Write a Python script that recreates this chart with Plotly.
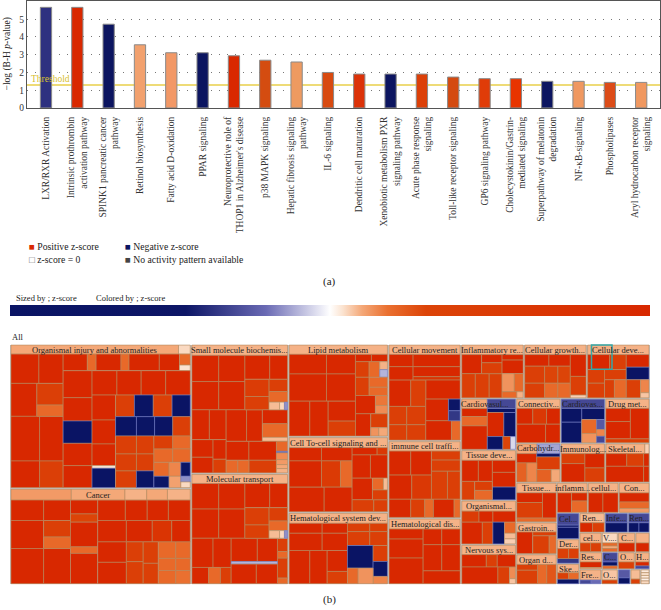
import plotly.graph_objects as go
from plotly.colors import sample_colorscale

W, H = 661, 610
SERIF = "Liberation Serif"

# ---------- bar chart data ----------
pathways = ["LXR/RXR Activation", "Intrinsic prothrombin<br>activation pathway",
            "SPINK1 pancreatic cancer<br>pathway", "Retinol biosynthesis",
            "Fatty acid D-oxidation", "PPAR signaling",
            "Neuroprotective role of<br>THOP1 in Alzheimer's disease", "p38 MAPK signaling",
            "Hepatic fibrosis signaling<br>pathway", "IL-6 signaling",
            "Dendritic cell maturation", "Xenobiotic metabolism PXR<br>signaling pathway",
            "Acute phase response<br>signaling", "Toll-like receptor signaling",
            "GP6 signaling pathway", "Cholecystokinin/Gastrin-<br>mediated signaling",
            "Superpathway of melatonin<br>degradation", "NF-κB-signaling",
            "Phospholipases", "Aryl hydrocarbon receptor<br>signaling"]
log_p = [5.67, 5.67, 4.72, 3.56, 3.11, 3.11, 2.94, 2.69, 2.59, 2.0,
         1.91, 1.91, 1.91, 1.74, 1.65, 1.65, 1.5, 1.5, 1.44, 1.44]
bar_colors = ["#2e3180", "#d92800", "#0c1560", "#f2a16e", "#f29866", "#0c1560", "#d92800",
              "#d44c10", "#ee9a60", "#d84a10", "#dc3208", "#0c1560", "#dc4008", "#d44a10",
              "#e03c08", "#e83400", "#0c1560", "#f09860", "#dc4c18", "#f09860"]
threshold = 1.3
y_ticks = [0, 1, 2, 3, 4, 5]

# ---------- z-score colour scale ----------
z_scale = [[0.0, "#0a1464"], [0.275, "#0d1666"], [0.40, "#6a6ab4"], [0.485, "#e8e8f4"],
           [0.5, "#ffffff"], [0.52, "#fbe3d0"], [0.55, "#f4a878"], [0.59, "#ea7030"],
           [0.65, "#dc4408"], [1.0, "#d82800"]]

# ---------- treemap data: sibling sizes and z-scores ----------
# leaf: [size, z-score, optional label]; branch: [split direction, size, children...]
R, r, o, p, N, L = 1.0, 0.42, 0.2, 0.1, -1.0, -0.3
S = [4, None]

organismal = ["y", 433,
    ["x", 27, [500, p, "Organismal injury and abnormalities"], [35, .05]],
    ["x", 401,
        ["y", 155,
            ["x", 88, [83, R], [72, R]],
            ["x", 99, [77, R], ["y", 78, [65, r], [34, o]]],
            ["x", 134, [85, R], [70, R]],
            ["x", 80, [85, R], [70, r]]],
        ["y", 378,
            ["x", 50, [72, R], [26, o], [74, R], [24, o], [90, R], [60, R], ["y", 32, [33, o], [17, .04]]],
            ["x", 351,
                ["y", 86, [81, R], [70, R], [67, N], [67, R], [66, R]],
                ["y", 292,
                    ["x", 73, [74, R], [72, R], [73, R], [73, R]],
                    ["x", 278,
                        ["y", 70, [75, R], [72, R], [65, R], [8, .03], [58, N]],
                        ["y", 222,
                            ["x", 65, [56, r], [56, N], [56, r], [54, N]],
                            ["x", 58, [62, N], [54, -.8], [54, -.9], [52, r]],
                            ["x", 155,
                                ["y", 62, [54, r], [51, r], [50, r]],
                                ["y", 52, [54, r], [51, r], [50, N]],
                                ["y", 108,
                                    ["x", 39, [56, r], [52, o]],
                                    ["x", 40, [56, o], [52, o]],
                                    ["x", 76,
                                        ["y", 45, [42, o], [34, -.55]],
                                        ["y", 35, [42, .15], [34, .11]],
                                        ["y", 28, [42, -.55], [17, -.15], [17, .05]]
                                    ]
                                ]
                            ]
                        ]
                    ]
                ]
            ]
        ]
    ]
]

cancer = ["y", 287,
    ["x", 33, [180, .12], [160, .1, "Cancer"], [65, .09], [62, .1], [68, .09]],
    ["x", 254,
        ["y", 177,
            ["x", 62, [97, R], [80, R]],
            ["x", 85, [97, R], ["y", 80, [50, r], [35, o]]],
            ["x", 107, [97, R], [80, R]]],
        ["x", 356,
            ["y", 81, [42, R], [25, .3], [75, R], [20, o], [92, R]],
            ["y", 275,
                ["x", 62, [82, R], [65, R], [63, R], [65, R]],
                ["x", 65, [85, R], [77, R], [58, .7], [55, R]],
                ["x", 127,
                    ["y", 85, [62, R], [65, R]],
                    ["y", 50, [60, r], [67, r]],
                    ["y", 45, [65, r], [62, r]],
                    ["y", 95,
                        ["x", 50, [52, o], [43, o]],
                        ["x", 37, [52, o], [43, o]],
                        ["x", 40, [52, o], [43, .18]]
                    ]
                ]
            ]
        ]
    ]
]

small_molecule = ["y", 385,
    [31, .09, "Small molecule biochemis..."],
    ["x", 164,
        ["y", 158, ["x", 79, [80, R], [78, R]], ["x", 85, [80, R], [78, R]]],
        ["y", 127,
            ["x", 72, [74, R], [53, R]],
            ["x", 92,
                ["y", 72, [52, .5], [40, r]],
                ["y", 55, [37, r], [32, o], ["x", 23, [24, .08], [11, .05], [7, -.15]]]]]],
    ["x", 190,
        ["y", 102, ["x", 90, [52, R], [50, R]], ["x", 100, ["y", 63, [53, R], [47, R]], ["y", 39, [23, R], [16, r]]]],
        ["y", 183,
            ["x", 95, [61, R], [47, R], ["y", 75, [42, R], [41, o], [12, .08]]],
            ["x", 95,
                ["y", 68, [57, R], ["x", 38, [35, o], [33, o]]],
                ["y", 82, [57, R], [38, r]],
                ["y", 33, [30, o], [5, -.2], [20, .14], [15, .12], [12, .1], [13, .09]]]]]]

molecular = ["y", 329,
    [27, .09, "Molecular transport"],
    ["x", 165,
        ["y", 158, ["x", 77, [80, R], [78, R]], ["x", 88, [80, R], [78, R]]],
        ["y", 127,
            ["x", 73, [74, R], [53, R]],
            ["x", 92,
                ["y", 72, [52, r], [40, r]],
                ["y", 55, [40, r], [29, o], ["x", 23, [24, .08], [11, .05], [7, -.15]]]]]],
    ["x", 137,
        ["y", 117, ["x", 88, [63, R], [54, R]], ["x", 49, [50, R], [35, o], [32, r]]],
        ["y", 138, ["x", 70, [78, R], [60, R]], ["x", 8, [138, -.1]], ["x", 59, [75, R], [63, R]]],
        ["y", 30, [40, r], [20, o], [60, r], [17, o]]]]

lipid = ["y", 274,
    [28, .09, "Lipid metabolism"],
    ["x", 246,
        ["y", 199,
            ["x", 59, [112, R], [87, R]],
            ["x", 82, [112, R], [87, R]],
            ["x", 105, [62, R], [55, R], ["y", 82, [60, R], [45, r]]]],
        ["y", 96,
            ["x", 22, [48, R], [48, R]],
            ["x", 47, [41, r], [32, o], ["y", 23, [24, .09], [23, -.1]]],
            ["x", 55, [41, r], ["y", 55, [30, o], [25, .2]]],
            ["x", 55, [60, R], ["y", 36, [30, .17], [25, .14]]],
            ["x", 67, [46, R], ["y", 50, [42, r], ["x", 25, [24, .13], [26, .1]]]]]]]

cell_to_cell = ["y", 223,
    [30, .09, "Cell To-cell signaling and ..."],
    ["x", 193,
        ["y", 189,
            ["x", 40, [97, R], [92, R]],
            ["x", 79, [97, R], [57, .55], [35, o]],
            ["x", 74, [105, R], [84, R]]],
        ["y", 106,
            ["x", 22, [75, R], [31, .6]],
            ["x", 70, [55, R], [51, R]],
            ["x", 65, [61, R], ["y", 45, ["x", 35, [33, .2], [12, .08]], [30, r]]],
            ["x", 36, [65, r], [41, r]]]]]

hemat_system = ["y", 212,
    [30, .09, "Hematological system dev..."],
    ["x", 182,
        ["y", 175,
            ["x", 30, [99, R], [76, R]],
            ["x", 52, [99, R], [76, R]],
            ["x", 100, [62, R], [52, R], ["y", 61, [63, R], [37, r]]]],
        ["y", 120,
            ["x", 25, [67, r], [53, r]],
            ["x", 42, [67, r], [53, r]],
            ["x", 115,
                ["y", 77, [68, N], ["x", 47, [32, o], [45, .13]]],
                ["y", 43, [48, r], [45, N], [22, .15]]]]]]

cell_movement = ["y", 285,
    [28, .09, "Cellular movement"],
    ["x", 77,
        ["y", 26, [102, R], [111, R]],
        ["y", 51, [102, R], [83, R], [28, .7]]],
    ["x", 180,
        ["y", 110,
            ["x", 79, [65, R], [45, r]],
            ["x", 55, [53, r], [57, r]],
            ["x", 46, [53, r], [57, r]]],
        ["y", 103,
            [57, R],
            ["x", 65, [68, R], ["y", 35, [35, -.55], [30, -.35]]],
            ["x", 58, [77, R], [26, o]]]]]

immune = ["y", 227,
    [28, .09, "immune cell traffi..."],
    ["x", 144,
        ["y", 127,
            ["x", 72, [65, R], [62, R]],
            ["x", 72, [68, R], [59, .6]]],
        ["y", 86,
            ["x", 60, ["y", 86, [27, r], [33, r]]],
            ["x", 84, [48, r], [38, r]]]],
    ["x", 55, [65, R], [42, r], [26, o], [62, R], [18, o]]]

hemat_disease = ["y", 194,
    [30, .09, "Hematological dis..."],
    ["x", 164,
        ["y", 102, [30, R], [57, R], [77, R]],
        ["y", 111,
            ["x", 47, [56, R], [55, R]],
            ["x", 78, [56, R], [55, R]],
            [39, R]]]]

inflammatory = ["y", 158,
    [28, .09, "Inflammatory re..."],
    ["x", 56, [63, R], ["y", 65, [24, R], [32, r]], ["y", 67, [16, R], [40, R]]],
    ["x", 71,
        [43, r], [44, r], [41, r],
        ["y", 67, ["x", 53, [39, .13], [28, o]], ["x", 18, [47, o], [20, .09]]]]]

growth = ["y", 158,
    [28, .09, "Cellular growth..."],
    ["x", 127,
        ["y", 137,
            ["x", 34, [73, R], [64, R]],
            ["x", 50, [60, r], [40, .3], [37, .3]],
            ["x", 43, [60, r], [40, o], [37, o]]],
        ["y", 48, [64, R], [55, r], [8, .06]]]]

cell_dev = ["y", 158,
    [28, .09, "Cellular deve..."],
    ["x", 127,
        ["y", 109,
            ["x", 44, [62, R], [47, r]],
            ["x", 83,
                ["y", 48, [40, r], [43, r]],
                ["y", 61, [30, r], ["x", 53, [27, r], [32, o]]]]],
        ["y", 65, [37, R], [37, N], ["x", 53, [41, r], ["y", 24, [38, .15], [15, .07]]]]]]

cardio_1 = ["y", 150,
    ["x", 28, [77, .1], [85, L]],
    ["x", 122,
        ["y", 77, [24, R], [28, o], [70, R]],
        ["y", 85, [12, N], ["x", 72, [50, R], [35, N]], ["x", 38, [47, N], [23, .3], [15, -.05]]]]]

tissue_dev = ["y", 147,
    [29, .09, "Tissue deve..."],
    ["x", 118,
        ["y", 92, ["x", 63, [50, R], [42, R]], ["x", 55, [39, r], ["y", 53, [27, r], [28, o]]]],
        ["y", 70, [36, R], [44, R], [38, N]]]]

organismal_2 = ["y", 128,
    [30, .09, "Organismal..."],
    ["x", 33, [52, .5], [42, R], [68, R]],
    ["x", 65, [62, R], [32, r], [35, N], ["y", 33, [33, o], [17, .08], [15, .06]]]]

nervous = ["y", 115,
    [28, .09, "Nervous sys..."],
    ["x", 37, [74, R], [33, r], [55, R]],
    ["x", 50, [109, R], [35, r], ["y", 18, [35, .14], [15, .07]]]]

connective = ["y", 132,
    [28, .09, "Connectiv..."],
    ["x", 48, [50, R], [43, .6], [42, R]],
    ["x", 56, [90, R], [45, R]]]

cardio_2 = ["y", 132,
    [28, L, "Cardiovas..."],
    ["x", 104,
        ["y", 65, [42, N], [62, N]],
        ["y", 72, [34, N],
            ["x", 70, ["y", 47, [35, o], [23, .13]],
                      ["y", 25, [25, -.25], [17, .15], [16, -.3]]]]]]

drug_met = ["y", 132,
    [28, .09, "Drug met..."],
    ["x", 92, ["y", 72, [40, R], [52, R]], [55, R]],
    [12, r]]

carbohydrate = ["y", 114,
    ["x", 29, [67, .1], [75, -.12]],
    ["x", 85,
        ["y", 65, [28, R], ["x", 57, [33, .22], [32, .15]]],
        ["y", 75, [10, -.6], [38, r], ["x", 37, [47, .22], [28, .1]]]]]

immunology = ["y", 114,
    [29, .09, "Immunolog..."],
    ["x", 85,
        ["y", 70, [30, r], [55, R]],
        ["y", 58, [43, R], [42, r]]]]

skeletal = ["y", 114,
    ["x", 29, [112, .09, "Skeletal..."], [12, .06]],
    ["x", 38, [58, R], [47, r], [15, R]],
    ["x", 47, [105, R], [15, R]]]

tissue_2 = ["y", 120,
    [30, .09, "Tissue..."],
    ["x", 78, ["y", 75, [30, R], [48, r]], [40, R]],
    [12, o]]

gastro = ["y", 95,
    [28, .09, "Gastroin..."],
    ["x", 67, [48, R], ["y", 70, [12, r], ["x", 55, [49, r], [21, o]]]]]

organ_dev = ["y", 90,
    [30, .09, "Organ d..."],
    ["x", 60, ["y", 62, [18, r], [42, r]], [28, o], [28, .25]]]

inflamm_2 = ["y", 90,
    [30, .09, "inflamm..."],
    ["x", 60, [50, R], ["y", 55, [25, R], [35, o]]]]

cellul_2 = ["y", 90,
    [30, .09, "cellul..."],
    ["x", 60, [47, R], [49, R]]]

con_2 = ["y", 90,
    [30, .09, "Con..."],
    [28, R], [20, o], [12, .12]]

cel_3 = ["y", 80, [37, L, "Cel..."], [7, -.9], [36, N]]
der_3 = ["y", 75, [28, .09, "Der..."], ["x", 32, [35, r], [32, r]], [15, -.35]]
ske_3 = ["y", 62, [27, .09, "Ske..."], ["x", 20, [35, r], [32, o]], [15, -.45]]

ren_a = ["y", 77, [30, .08, "Ren..."], ["x", 30, [40, R], [37, r]]]
infe = ["y", 70, [30, L, "Infe..."], [30, N]]
ren_b = ["y", 65, [30, L, "Ren..."], ["x", 30, [33, N], [32, N]]]

cel_4 = ["y", 68, [32, .09, "cel..."], ["x", 28, [34, r], [34, r]]]
v_4 = ["y", 48, [32, .05, "V...."], [10, o], [8, .1], [10, o]]
c_4 = ["y", 52, [32, .09, "C..."], [28, R]]
end_4 = ["y", 42, [32, .09], [28, R]]

res_5 = ["y", 70, [30, .09, "Res..."], [18, R], [4, .1]]
c_5 = ["y", 47, [30, L, "C..."], [13, N], [9, .2]]
o_5 = ["y", 51, [30, .09, "O..."], [22, r]]
h_5 = ["y", 44, [30, .09, "H..."], [13, R], [9, L]]

fre_6 = ["y", 68, [33, .09, "Fre..."], ["x", 12, [36, L], [32, -.2]]]
o_6 = ["y", 50, [33, .07, "O..."], [12, r]]
small_a = ["y", 37, [26, -.25], [19, N]]
small_b = ["y", 29, [30, .08], [15, r]]
small_c = ["y", 26, [9, .03], [9, .04], [9, .03], [9, .02], [9, .05]]

right_grid = ["y", 217,
    ["x", 60, ren_a, S, infe, S, ren_b],
    S,
    ["x", 60, cel_4, S, v_4, S, c_4, S, end_4],
    S,
    ["x", 52, res_5, S, c_5, S, o_5, S, h_5],
    S,
    ["x", 45, fre_6, S, o_6, S, small_a, S, small_b, S, small_c]]

column_1 = ["y", 540, organismal, [5, None], cancer]
column_2 = ["y", 288, small_molecule, [5, None], molecular]
column_3 = ["y", 296, lipid, [5, None], cell_to_cell, [5, None], hemat_system]
column_4 = ["y", 214, cell_movement, [5, None], immune, [5, None], hemat_disease]
top_row = ["x", 160, inflammatory, S, growth, S, cell_dev]
side_column = ["y", 162, cardio_1, S, tissue_dev, S, organismal_2, S, nervous]
row_a = ["x", 133, connective, S, cardio_2, S, drug_met]
row_b = ["x", 116, carbohydrate, S, immunology, S, skeletal]
bottom_left = ["y", 120, tissue_2, S, gastro, S, organ_dev]
bottom_top = ["x", 90, inflamm_2, S, cellul_2, S, con_2]
bottom_grid = ["x", 217, ["y", 67, cel_3, S, der_3, S, ske_3], S, right_grid]
bottom_right = ["y", 279, bottom_top, S, bottom_grid]
bottom_block = ["x", 307, bottom_left, S, bottom_right]
side_block = ["y", 399, row_a, S, row_b, S, bottom_block]
column_5 = ["y", 564, top_row, S, ["x", 560, side_column, S, side_block]]
treemap_root = ["x", 1, [3, None], column_1, [5, None], column_2, [5, None], column_3,
                [5, None], column_4, [5, None], column_5, [3, None]]

ids, parents, values, labels, colors, line_w, line_c = [], [], [], [], [], [], []
cell_labels = []
MAP_BOX = (10, 347.5, 650, 588.5)


def color_of(z):
    if z is None:
        return "#c2c4c6"
    return sample_colorscale(z_scale, (z + 1) / 2)[0]


def put(parent, value, color, lw, lc):
    i = f"n{len(ids)}"
    ids.append(i); parents.append(parent); values.append(value); labels.append(i)
    colors.append(color); line_w.append(lw); line_c.append(lc)
    return i


def walk(node, parent, share, depth, box):
    if not isinstance(node[0], str):
        z = node[1]
        if z is None:
            put(parent, share * 1e6, color_of(z), 0, "#c2c4c6")
        else:
            put(parent, share * 1e6, color_of(z), 0.6, "#6f78c4" if z < 0 else "#b58a5c")
            if len(node) > 2:
                cell_labels.append(((box[0] + box[2]) / 2, (box[1] + box[3]) / 2, node[2]))
        return
    me = put(parent, 0, "#c2c4c6", 0, "#c2c4c6")
    need = 0 if node[0] == "x" else 1
    if depth % 2 != need:
        me = put(me, 0, "#c2c4c6", 0, "#c2c4c6")
        depth += 1
    kids = node[2:]
    total = sum(k[1] if isinstance(k[0], str) else k[0] for k in kids)
    x0, y0, x1, y1 = box
    done = 0
    for k in kids:
        size = k[1] if isinstance(k[0], str) else k[0]
        a, b = done / total, (done + size) / total
        done += size
        if node[0] == "x":
            sub = (x0 + a * (x1 - x0), y0, x0 + b * (x1 - x0), y1)
        else:
            sub = (x0, y0 + a * (y1 - y0), x1, y0 + b * (y1 - y0))
        walk(k, me, share * size / total, depth + 1, sub)


walk(treemap_root, "", 1.0, 0, MAP_BOX)


def px(x):
    return x / W


def py(y):
    return 1 - y / H


fig = go.Figure()
fig.add_trace(go.Bar(x=pathways, y=log_p, width=0.36, showlegend=False,
                     marker=dict(color=bar_colors, line=dict(color="#8a8a8a", width=1))))
fig.add_trace(go.Scatter(x=[pathways[0], pathways[0]], y=[None, None], mode="markers",
                         showlegend=False, hoverinfo="skip",
                         marker=dict(color=[-1, 1], cmin=-1, cmax=1, colorscale=z_scale, showscale=True,
                                     colorbar=dict(orientation="h", x=px(10), xanchor="left",
                                                   y=py(318.5), yanchor="bottom", thickness=10.5,
                                                   len=640, lenmode="pixels", outlinewidth=0,
                                                   borderwidth=0, ticks="", showticklabels=False,
                                                   xpad=0, ypad=0))))
fig.add_trace(go.Treemap(ids=ids, labels=labels, parents=parents, values=values,
                         textinfo="none", branchvalues="remainder", sort=False, maxdepth=-1,
                         tiling=dict(packing="slice-dice", pad=0),
                         pathbar=dict(visible=False),
                         root=dict(color="#ffffff"),
                         domain=dict(x=[px(MAP_BOX[0]), px(MAP_BOX[2])], y=[py(MAP_BOX[3]), py(MAP_BOX[1])]),
                         marker=dict(colors=colors, depthfade=False,
                                     pad=dict(t=0, l=0, r=0, b=0),
                                     line=dict(width=line_w, color=line_c))))

fig.add_hline(y=threshold, line=dict(color="#e8cf4a", width=1.5), layer="below")

text_notes = [
    (27, 248, "<span style='color:#d92800'>■</span> Positive z-score", 9.7, "left", 0),
    (27, 261, "<span style='color:#666666'>□</span> z-score = 0", 9.7, "left", 0),
    (123, 248, "<span style='color:#0c1560'>■</span> Negative z-score", 9.7, "left", 0),
    (123, 261, "<span style='color:#444444'>■</span> No activity pattern available", 9.7, "left", 0),
    (329, 283, "(a)", 11, "center", 0),
    (329, 604, "(b)", 11, "center", 0),
    (14, 300, "Sized by ; z-score", 8.5, "left", 0),
    (94, 300, "Colored by ; z-score", 8.5, "left", 0),
    (10, 339, "All", 8.5, "left", 0),
    (29, 79, "<span style='color:#d8c030'>Threshold</span>", 9.5, "left", 0),
    (7, 54, "−log (B-H <i>p</i>-value)", 9.5, "center", -90),
    (484, 406.5, "Cardiovasul...", 8.5, "center", 0),
    (538, 451.5, "Carbohydr...", 8.5, "center", 0),
]
for cx, cy, t in cell_labels:
    text_notes.append((cx, cy, t, 8.5, "center", 0))
for x, y, t, size, anchor, angle in text_notes:
    fig.add_annotation(x=px(x), y=py(y), xref="paper", yref="paper", text=t, showarrow=False,
                       xanchor=anchor, yanchor="middle", textangle=angle,
                       font=dict(family=SERIF, size=size, color="#222222"))

fig.add_shape(type="rect", xref="paper", yref="paper", x0=px(591.5), x1=px(612), y0=py(372), y1=py(347.5),
              line=dict(color="#35a8a8", width=1.5))

fig.update_layout(
    width=W, height=H, autosize=False,
    margin=dict(l=0, r=0, t=0, b=0),
    paper_bgcolor="#ffffff", plot_bgcolor="#ffffff",
    font=dict(family=SERIF, color="#222222"),
    showlegend=False,
    xaxis=dict(domain=[px(27), px(660)], type="category", categoryorder="array", categoryarray=pathways,
               range=[-0.606, 19.6], tickangle=-90, ticks="", ticklabelstandoff=4,
               tickfont=dict(family=SERIF, size=9.5, color="#333333"),
               showline=True, mirror=True, linecolor="#555555", linewidth=1, showgrid=False),
    yaxis=dict(domain=[py(108), py(0.5)], range=[0, 6], tickvals=y_ticks, ticks="",
               tickfont=dict(family=SERIF, size=9.5, color="#333333"),
               showline=True, mirror=True, linecolor="#555555", linewidth=1, zeroline=False,
               showgrid=True, gridcolor="#777777", griddash="1px,7px", gridwidth=1),
)

fig.write_html("out.html", config=dict(displayModeBar=False),
               post_script="document.body.style.margin='0';")
